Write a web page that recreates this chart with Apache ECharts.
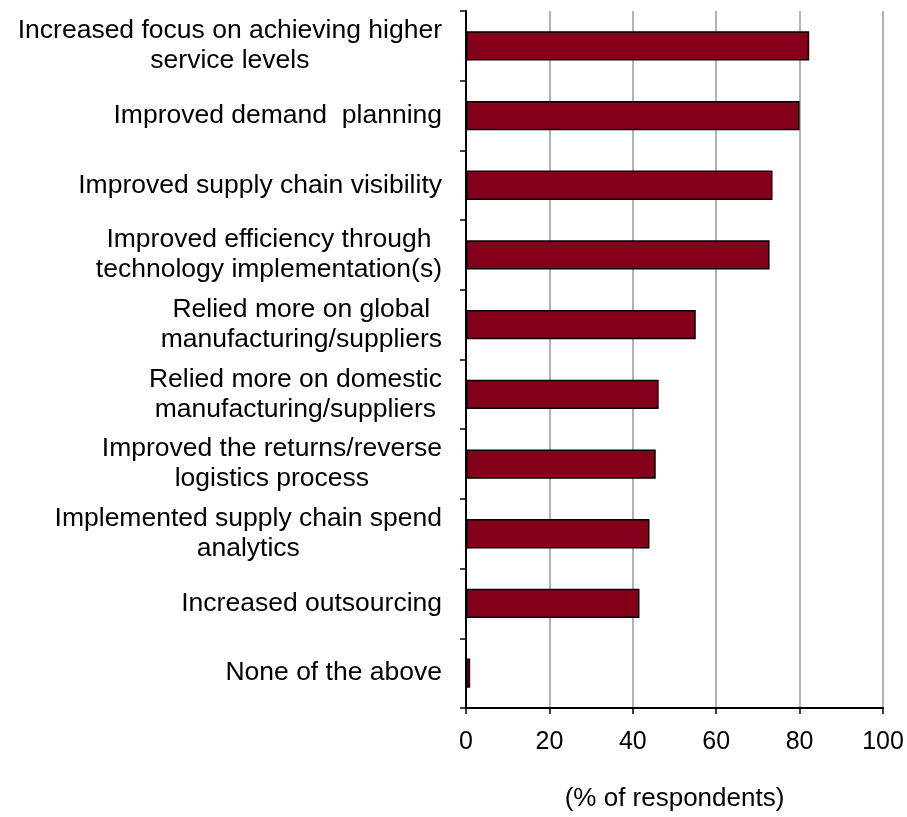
<!DOCTYPE html>
<html>
<head>
<meta charset="utf-8">
<title>Supply chain actions</title>
<script src="https://cdn.jsdelivr.net/npm/echarts@6/dist/echarts.min.js"></script>
<style>
  html, body { margin: 0; padding: 0; background: #fff; }
  #chart { width: 907px; height: 817px; }
</style>
</head>
<body>
<div id="chart"></div>
<script>
// Actions taken, listed top to bottom
const categories = [
  'Increased focus on achieving higher\nservice levels',
  'Improved demand  planning',
  'Improved supply chain visibility',
  'Improved efficiency through\ntechnology implementation(s)',
  'Relied more on global\nmanufacturing/suppliers',
  'Relied more on domestic\nmanufacturing/suppliers',
  'Improved the returns/reverse\nlogistics process',
  'Implemented supply chain spend\nanalytics',
  'Increased outsourcing',
  'None of the above'
];
// Share of respondents (%)
const values = [82.3, 80.0, 73.5, 72.8, 55.1, 46.2, 45.5, 44.0, 41.6, 1.0];
const xTicks = [0, 20, 40, 60, 80, 100];

const FONT = "'Liberation Sans', Arial, sans-serif";
const chart = echarts.init(document.getElementById('chart'));

chart.setOption({
  animation: false,
  backgroundColor: '#ffffff',
  grid: { left: 466, right: 24, top: 11, bottom: 105, containLabel: false },
  xAxis: {
    type: 'value',
    min: xTicks[0],
    max: xTicks[xTicks.length - 1],
    interval: xTicks[1] - xTicks[0],
    name: '(% of respondents)',
    nameLocation: 'middle',
    nameGap: 78,
    nameTextStyle: { fontFamily: FONT, fontSize: 26, color: '#000' },
    axisLine: { show: true, lineStyle: { color: '#000', width: 2 } },
    axisTick: { show: true, length: 6, lineStyle: { color: '#000', width: 1.5 } },
    axisLabel: { fontFamily: FONT, fontSize: 25, color: '#000', margin: 22 },
    splitLine: { show: true, lineStyle: { color: '#999', width: 1.5 } }
  },
  yAxis: {
    type: 'category',
    data: categories,
    inverse: true,
    axisLine: { show: true, lineStyle: { color: '#000', width: 2 } },
    axisTick: { show: true, length: 6, lineStyle: { color: '#000', width: 1.5 } },
    axisLabel: {
      margin: 24,
      formatter: function (v) {
        return v.split('\n').map(function (s) { return '{c|' + s + '}'; }).join('\n');
      },
      rich: {
        c: { fontFamily: FONT, fontSize: 26.5, color: '#000', lineHeight: 30, align: 'center' }
      }
    },
    splitLine: { show: false }
  },
  series: [{
    type: 'bar',
    data: values,
    barCategoryGap: '58%',
    itemStyle: { color: '#84001A', borderColor: '#000', borderWidth: 1.5 }
  }]
});
</script>
</body>
</html>
